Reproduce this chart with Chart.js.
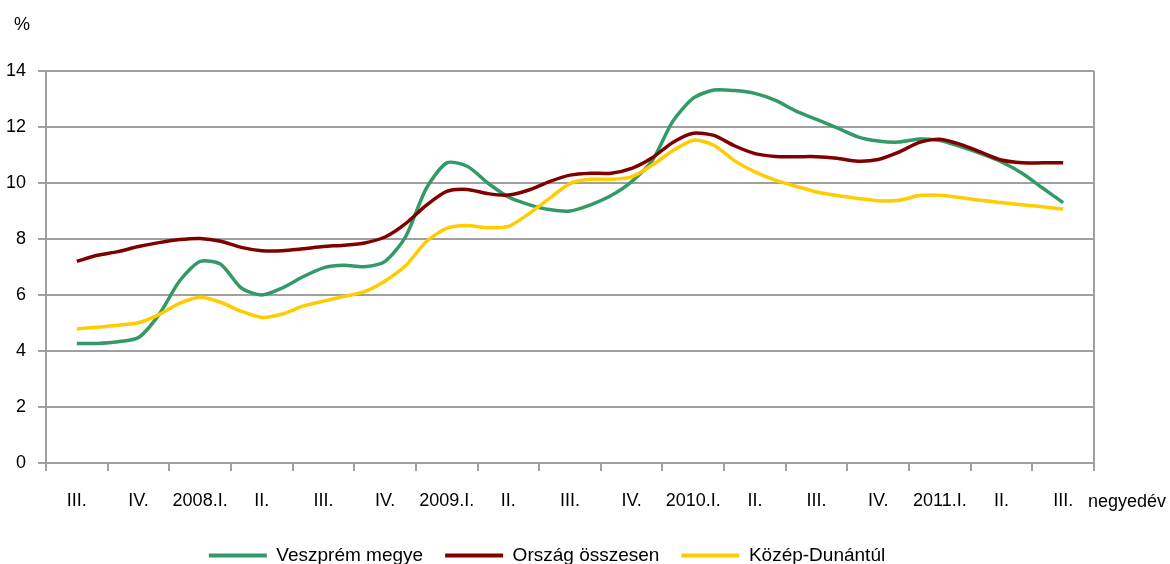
<!DOCTYPE html>
<html>
<head>
<meta charset="utf-8">
<script src="https://cdn.jsdelivr.net/npm/chart.js@4/dist/chart.umd.min.js"></script>
<style>
  html, body { margin: 0; padding: 0; background: #ffffff; }
  #wrap { width: 1170px; height: 564px; }
</style>
</head>
<body>
<div id="wrap"><canvas id="c" width="1170" height="564"></canvas></div>
<script>
// Quarter tick labels on the x axis
const quarterLabels = ['III.', 'IV.', '2008.I.', 'II.', 'III.', 'IV.', '2009.I.', 'II.', 'III.', 'IV.', '2010.I.', 'II.', 'III.', 'IV.', '2011.I.', 'II.', 'III.'];
const unitLabel = '%';
const axisUnitLabel = 'negyedév';
const seriesNames = ['Veszprém megye', 'Ország összesen', 'Közép-Dunántúl'];

// Monthly values (3 per quarter), 2007 III. quarter -> 2011 III. quarter
const veszprem = [4.27, 4.27, 4.33, 4.48, 5.3, 6.5, 7.2, 7.1, 6.25, 6.0, 6.25, 6.65, 6.97, 7.06, 7.01, 7.2, 8.08, 9.8, 10.72, 10.6, 10.0, 9.5, 9.23, 9.05, 9.0, 9.22, 9.55, 10.05, 10.8, 12.2, 13.03, 13.32, 13.3, 13.2, 12.95, 12.57, 12.27, 11.97, 11.65, 11.5, 11.46, 11.57, 11.52, 11.3, 11.05, 10.75, 10.35, 9.82, 9.3];
const orszag = [7.2, 7.42, 7.55, 7.73, 7.87, 7.98, 8.02, 7.92, 7.7, 7.58, 7.58, 7.65, 7.73, 7.78, 7.86, 8.07, 8.55, 9.2, 9.7, 9.77, 9.62, 9.57, 9.75, 10.05, 10.28, 10.35, 10.35, 10.52, 10.9, 11.45, 11.78, 11.7, 11.33, 11.05, 10.95, 10.94, 10.94, 10.88, 10.78, 10.84, 11.1, 11.45, 11.56, 11.38, 11.1, 10.82, 10.72, 10.72, 10.72];
const kozepDunantul = [4.79, 4.85, 4.92, 5.01, 5.3, 5.7, 5.92, 5.74, 5.42, 5.2, 5.32, 5.6, 5.78, 5.95, 6.12, 6.5, 7.05, 7.9, 8.38, 8.48, 8.4, 8.45, 8.9, 9.45, 9.98, 10.13, 10.13, 10.22, 10.64, 11.15, 11.53, 11.35, 10.8, 10.4, 10.1, 9.88, 9.68, 9.55, 9.45, 9.37, 9.38, 9.55, 9.56, 9.48, 9.38, 9.3, 9.22, 9.15, 9.07];

const COLORS = ['#339966', '#800000', '#FFCC00'];
const GRID = '#a0a0a0';
const FONT_FAMILY = '"Liberation Sans", Arial, sans-serif';

// month index -> position in quarter units
function toPoints(arr) {
  return arr.map((v, i) => ({ x: i / 3, y: v }));
}

const extraText = {
  id: 'extraText',
  afterDraw(chart) {
    const ctx = chart.ctx;
    const xs = chart.scales.xq;
    const ys = chart.scales.y;
    ctx.save();
    ctx.fillStyle = '#000000';
    ctx.textBaseline = 'middle';
    ctx.textAlign = 'center';
    ctx.font = '18px ' + FONT_FAMILY;
    ctx.fillText(unitLabel, 22, ys.top - 46);
    ctx.textAlign = 'left';
    ctx.fillText(axisUnitLabel, xs.right - 6, xs.top + 39);
    ctx.restore();
  }
};

const datasets = [veszprem, orszag, kozepDunantul].map((arr, k) => ({
  label: seriesNames[k],
  data: toPoints(arr),
  xAxisID: 'x',
  yAxisID: 'y',
  borderColor: COLORS[k],
  backgroundColor: COLORS[k],
  borderWidth: 3.5,
  pointRadius: 0,
  pointHoverRadius: 0,
  tension: 0.25,
  fill: false,
  borderJoinStyle: 'round',
  order: 3 - k
}));

new Chart(document.getElementById('c'), {
  type: 'line',
  data: { datasets },
  plugins: [extraText],
  options: {
    responsive: false,
    animation: false,
    events: [],
    layout: { padding: { top: 71, left: 0, right: 76, bottom: 0 } },
    font: { family: FONT_FAMILY, size: 18 },
    color: '#000000',
    scales: {
      x: {
        type: 'linear',
        display: false,
        min: -0.5,
        max: quarterLabels.length - 0.5
      },
      xq: {
        type: 'category',
        position: 'bottom',
        labels: quarterLabels,
        offset: true,
        afterFit(scale) { scale.height = 61; },
        grid: {
          offset: true,
          drawOnChartArea: true,
          color: (ctx) => (ctx.type === 'tick' ? 'rgba(0,0,0,0)' : GRID),
          tickColor: GRID,
          lineWidth: 2,
          tickLength: 8
        },
        border: { display: true, color: GRID, width: 2 },
        ticks: {
          color: '#000000',
          font: { family: FONT_FAMILY, size: 18 },
          padding: 19,
          maxRotation: 0,
          autoSkip: false
        }
      },
      y: {
        type: 'linear',
        position: 'left',
        min: 0,
        max: 14,
        afterFit(scale) { scale.width = 46; },
        ticks: {
          stepSize: 2,
          color: '#000000',
          font: { family: FONT_FAMILY, size: 18 },
          padding: 12
        },
        grid: {
          color: GRID,
          lineWidth: 2,
          tickLength: 8
        },
        border: { display: true, color: GRID, width: 2 }
      }
    },
    plugins: {
      tooltip: { enabled: false },
      title: { display: false },
      legend: {
        display: true,
        position: 'bottom',
        maxHeight: 40,
        labels: {
          color: '#000000',
          font: { family: FONT_FAMILY, size: 19 },
          boxWidth: 58,
          boxHeight: 4,
          padding: 22,
          generateLabels(chart) {
            return chart.data.datasets.map((ds, i) => ({
              text: ds.label,
              fillStyle: ds.borderColor,
              strokeStyle: ds.borderColor,
              lineWidth: 0,
              hidden: false,
              datasetIndex: i,
              fontColor: '#000000'
            }));
          }
        }
      }
    }
  }
});
</script>
</body>
</html>
